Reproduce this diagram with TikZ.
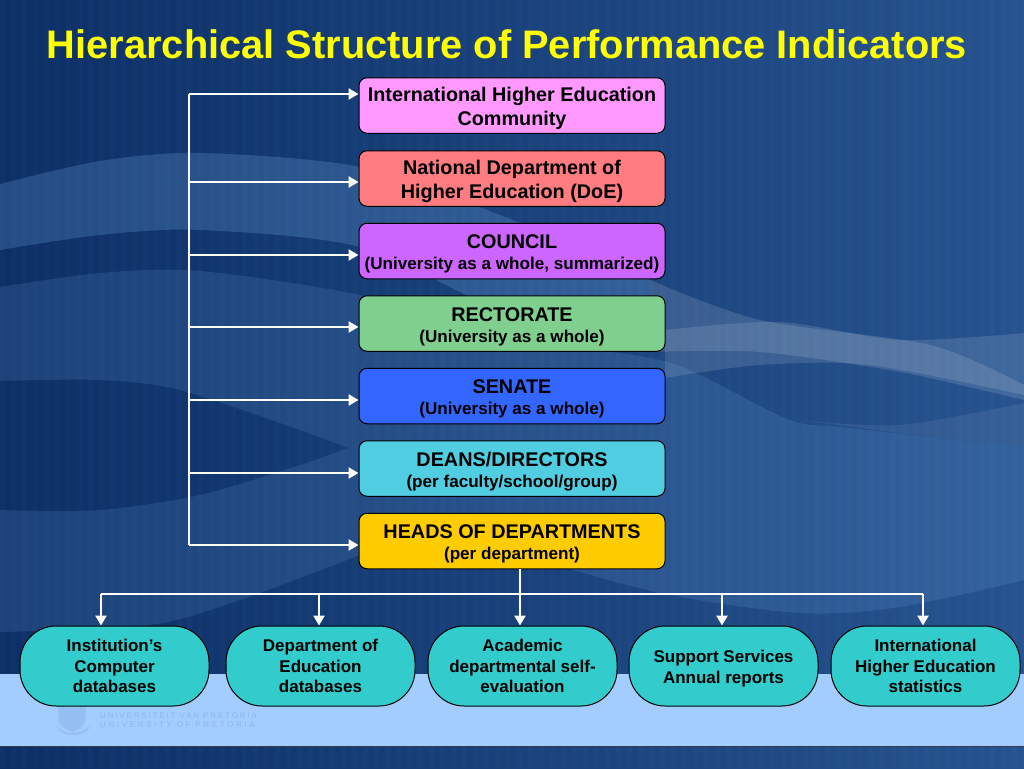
\documentclass[tikz,border=0pt]{standalone}
\usepackage{fontspec}
\setmainfont{Liberation Sans}
\usetikzlibrary{arrows.meta}
\definecolor{bgleft}{HTML}{0C2F66}
\definecolor{bgright}{HTML}{26538F}
\definecolor{wavetint}{HTML}{8AC6FE}
\definecolor{bandblue}{HTML}{A3CDFF}
\definecolor{crestblue}{HTML}{8DB7EA}
\definecolor{titleyellow}{HTML}{FFFF00}
\definecolor{ihecfill}{HTML}{FF99FF}
\definecolor{doefill}{HTML}{FF7C80}
\definecolor{councilfill}{HTML}{CC66FF}
\definecolor{rectoratefill}{HTML}{7FCF8F}
\definecolor{senatefill}{HTML}{3366FF}
\definecolor{deansfill}{HTML}{50CDE0}
\definecolor{hodsfill}{HTML}{FFCC00}
\definecolor{sourcefill}{HTML}{33CCCC}
\newcommand{\bigline}{\fontsize{19.8}{24}\selectfont}
\newcommand{\smallline}{\fontsize{17.1}{21}\selectfont}
\newcommand{\sourceline}{\fontsize{17}{20.8}\selectfont}
\newcommand{\toppad}{\rule{0pt}{20.5pt}}
\tikzset{
  levelbox/.style={draw=black,line width=1pt,rounded corners=8pt,minimum width=306pt,minimum height=55.5pt,
    inner sep=0pt,align=center,font=\bfseries\bigline},
  sourcebox/.style={draw=black,line width=1pt,fill=sourcefill,rounded corners=36pt,minimum width=189pt,minimum height=80pt,
    inner sep=0pt,align=center,font=\bfseries\sourceline},
  link/.style={draw=white,line width=2.8pt,line join=round},
  linkarrow/.style={link,-{Triangle[length=10pt,width=11pt]}},
  wave/.style={fill=wavetint,opacity=#1},
  whitewave/.style={fill=white,opacity=#1}
}
\begin{document}
\begin{tikzpicture}[x=1pt,y=-1pt]
                \useasboundingbox (0,0) rectangle (1024,768);
                \shade[left color=bgleft,right color=bgright] (0,0) rectangle (1024,768);

                % swept waves of the slide background
                \fill[wave=.2] plot[smooth] coordinates {(0,184) (100,161) (200,153) (360,167) (500,215) (650,280)}
                    -- plot[smooth] coordinates {(650,352) (500,310) (360,247) (200,230) (100,235) (0,250)} -- cycle;
                \fill[whitewave=.13] plot[smooth] coordinates {(650,280) (760,320) (930,345) (1024,385)}
                    -- plot[smooth] coordinates {(1024,400) (900,372) (760,352) (650,352)} -- cycle;
                \fill[wave=.13] plot[smooth] coordinates {(0,287) (100,273) (200,271) (360,295) (500,335) (650,358) (700,375) (790,420) (850,428) (1024,447)}
                    -- (1024,580)
                    -- plot[smooth] coordinates {(1024,580) (900,607) (800,613) (660,593) (520,555) (420,532)}
                    -- plot[smooth] coordinates {(420,532) (360,555) (240,600) (150,625) (0,632)}
                    -- (0,510)
                    -- plot[smooth] coordinates {(0,510) (100,510) (200,495) (300,465) (348,448)}
                    -- plot[smooth] coordinates {(348,448) (300,430) (180,390) (100,380) (0,381)} -- cycle;
                \fill[whitewave=.12] plot[smooth] coordinates {(665,330) (780,322) (900,340) (1024,333)}
                    -- plot[smooth] coordinates {(1024,395) (870,365) (760,365) (665,378)} -- cycle;
                \fill[whitewave=.07] plot[smooth] coordinates {(800,420) (900,425) (1024,403)}
                    -- (1024,447)
                    -- plot[smooth] coordinates {(1024,447) (900,433) (800,420)} -- cycle;

                % thin vertical stripes
                \foreach \sx in {0,11,...,1023}
                    \fill[white,opacity=.016] (\sx,0) rectangle ++(5,768);

                % light band at the foot of the slide
                \fill[bandblue] (0,674) rectangle (1024,746);
                \draw[black!70!bandblue,line width=1pt] (0,746) -- (1024,746);

                % crest and university name
                \fill[crestblue,opacity=.55] (58,707) -- (86,707) -- (85,722) .. controls (83,728) and (76,730) .. (72,732)
                    .. controls (68,730) and (61,728) .. (59,722) -- cycle;
                \fill[crestblue,opacity=.55] (56,726) .. controls (64,735) and (80,735) .. (90,726) .. controls (88,738) and (60,738) .. (56,726) -- cycle;
                \node[anchor=west,inner sep=0pt,text=crestblue,font=\fontsize{8}{9}\selectfont\addfontfeature{LetterSpace=23}] (upname) at (100,716) {UNIVERSITEIT VAN PRETORIA};
                \node[anchor=west,inner sep=0pt,text=crestblue,font=\fontsize{8}{9}\selectfont\addfontfeature{LetterSpace=33}] (upnameb) at (100,725) {UNIVERSITY OF PRETORIA};

                \node[text=titleyellow,inner sep=0pt,font=\bfseries\fontsize{39.8}{44}\selectfont] (title) at (507,44) {Hierarchical Structure of Performance Indicators};

                \node[levelbox,fill=ihecfill] (ihec) at (512,105.5) {\toppad International Higher Education\\Community};
                \node[levelbox,fill=doefill] (doe) at (512,178.5) {\toppad National Department of\\Higher Education (DoE)};
                \node[levelbox,fill=councilfill] (council) at (512,251) {\toppad COUNCIL\\[-3pt]{\smallline (University as a whole, summarized)}};
                \node[levelbox,fill=rectoratefill] (rectorate) at (512,323.5) {\toppad RECTORATE\\[-3pt]{\smallline (University as a whole)}};
                \node[levelbox,fill=senatefill] (senate) at (512,396) {\toppad SENATE\\[-3pt]{\smallline (University as a whole)}};
                \node[levelbox,fill=deansfill] (deans) at (512,468.5) {\toppad DEANS/DIRECTORS\\[-3pt]{\smallline (per faculty/school/group)}};
                \node[levelbox,fill=hodsfill] (hods) at (512,541) {\toppad HEADS OF DEPARTMENTS\\[-3pt]{\smallline (per department)}};

                \node[sourcebox] (instdb) at (114.5,666) {Institution’s\\Computer\\databases};
                \node[sourcebox] (doedb) at (320.5,666) {Department of\\Education\\databases};
                \node[sourcebox] (selfeval) at (522.5,666) {Academic\\departmental self-\\evaluation};
                \node[sourcebox] (support) at (723.5,666) {\rule{0pt}{18pt}Support Services\\Annual reports};
                \node[sourcebox] (ihestats) at (925.5,666) {International\\Higher Education\\statistics};

                \coordinate (t1) at (189,94);
                \coordinate (t2) at (189,182);
                \coordinate (t3) at (189,255);
                \coordinate (t4) at (189,327);
                \coordinate (t5) at (189,400);
                \coordinate (t6) at (189,473);
                \coordinate (t7) at (189,545);
                \draw[link] (t1) -- (t7);
                \draw[linkarrow] (t1) -- (ihec.west |- t1);
                \draw[linkarrow] (t2) -- (doe.west |- t2);
                \draw[linkarrow] (t3) -- (council.west |- t3);
                \draw[linkarrow] (t4) -- (rectorate.west |- t4);
                \draw[linkarrow] (t5) -- (senate.west |- t5);
                \draw[linkarrow] (t6) -- (deans.west |- t6);
                \draw[linkarrow] (t7) -- (hods.west |- t7);

                \coordinate (s0) at (520,594);
                \coordinate (s1) at (101,594);
                \coordinate (s2) at (319,594);
                \coordinate (s4) at (722,594);
                \coordinate (s5) at (923,594);
                \draw[link] (hods.south -| s0) -- (s0);
                \draw[link] (s1) -- (s5);
                \draw[linkarrow] (s1) -- (instdb.north -| s1);
                \draw[linkarrow] (s2) -- (doedb.north -| s2);
                \draw[linkarrow] (s0) -- (selfeval.north -| s0);
                \draw[linkarrow] (s4) -- (support.north -| s4);
                \draw[linkarrow] (s5) -- (ihestats.north -| s5);
            \end{tikzpicture}
\end{document}
